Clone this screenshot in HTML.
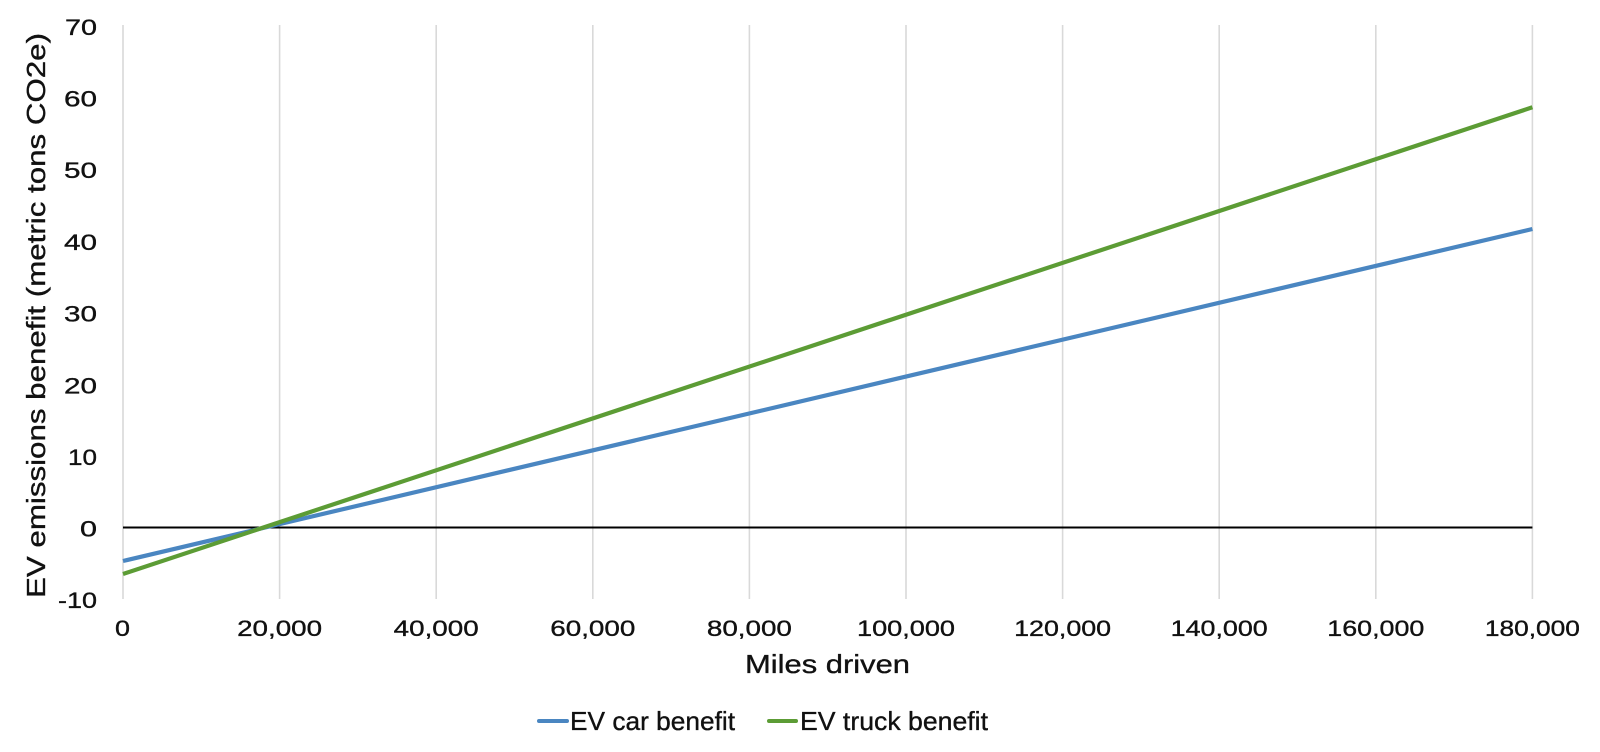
<!DOCTYPE html>
<html>
<head>
<meta charset="utf-8">
<style>
  html, body { margin:0; padding:0; background:#ffffff; }
  svg { display:block; }
  text { font-family: "Liberation Sans", "DejaVu Sans", sans-serif; fill:#111111; stroke:#111111; stroke-width:0.35px; }
</style>
</head>
<body>
<svg width="1600" height="752" viewBox="0 0 1600 752" xmlns="http://www.w3.org/2000/svg">
  <rect x="0" y="0" width="1600" height="752" fill="#ffffff"/>
  <!-- vertical gridlines -->
  <g stroke="#d9d9d9" stroke-width="1.6">
    <line x1="123" y1="25" x2="123" y2="599"/>
    <line x1="279.6" y1="25" x2="279.6" y2="599"/>
    <line x1="436.2" y1="25" x2="436.2" y2="599"/>
    <line x1="592.8" y1="25" x2="592.8" y2="599"/>
    <line x1="749.4" y1="25" x2="749.4" y2="599"/>
    <line x1="906" y1="25" x2="906" y2="599"/>
    <line x1="1062.6" y1="25" x2="1062.6" y2="599"/>
    <line x1="1219.2" y1="25" x2="1219.2" y2="599"/>
    <line x1="1375.8" y1="25" x2="1375.8" y2="599"/>
    <line x1="1532.4" y1="25" x2="1532.4" y2="599"/>
  </g>
  <!-- zero line -->
  <line x1="123" y1="527.5" x2="1532.4" y2="527.5" stroke="#000000" stroke-width="2"/>

  <!-- series -->
  <line x1="123" y1="561" x2="1532.4" y2="229" stroke="#4a86c1" stroke-width="4.2" stroke-linecap="butt"/>
  <line x1="123" y1="574" x2="1532.4" y2="107.3" stroke="#5c9c35" stroke-width="4.2" stroke-linecap="butt"/>

  <!-- y tick labels -->
  <g font-size="22" text-anchor="end">
    <text x="97" y="35" textLength="32" lengthAdjust="spacingAndGlyphs">70</text>
    <text x="97" y="106.5" textLength="33" lengthAdjust="spacingAndGlyphs">60</text>
    <text x="97" y="178.2" textLength="33" lengthAdjust="spacingAndGlyphs">50</text>
    <text x="97" y="249.9" textLength="33" lengthAdjust="spacingAndGlyphs">40</text>
    <text x="97" y="321.6" textLength="33" lengthAdjust="spacingAndGlyphs">30</text>
    <text x="97" y="393.3" textLength="33" lengthAdjust="spacingAndGlyphs">20</text>
    <text x="97" y="465" textLength="29" lengthAdjust="spacingAndGlyphs">10</text>
    <text x="97" y="536.5" textLength="17" lengthAdjust="spacingAndGlyphs">0</text>
    <text x="97" y="608" textLength="39" lengthAdjust="spacingAndGlyphs">-10</text>
  </g>

  <!-- x tick labels -->
  <g font-size="22" text-anchor="middle">
    <text x="122.5" y="636" textLength="15" lengthAdjust="spacingAndGlyphs">0</text>
    <text x="279.6" y="636" textLength="85" lengthAdjust="spacingAndGlyphs">20,000</text>
    <text x="436.2" y="636" textLength="85" lengthAdjust="spacingAndGlyphs">40,000</text>
    <text x="592.8" y="636" textLength="85" lengthAdjust="spacingAndGlyphs">60,000</text>
    <text x="749.4" y="636" textLength="85" lengthAdjust="spacingAndGlyphs">80,000</text>
    <text x="906" y="636" textLength="98" lengthAdjust="spacingAndGlyphs">100,000</text>
    <text x="1062.6" y="636" textLength="97" lengthAdjust="spacingAndGlyphs">120,000</text>
    <text x="1219.2" y="636" textLength="97" lengthAdjust="spacingAndGlyphs">140,000</text>
    <text x="1375.8" y="636" textLength="97" lengthAdjust="spacingAndGlyphs">160,000</text>
    <text x="1532.4" y="636" textLength="95" lengthAdjust="spacingAndGlyphs">180,000</text>
  </g>

  <!-- axis titles -->
  <text x="827.5" y="673" font-size="26" text-anchor="middle" textLength="165" lengthAdjust="spacingAndGlyphs">Miles driven</text>
  <text transform="translate(45,315.5) rotate(-90)" x="0" y="0" font-size="26" text-anchor="middle" textLength="565" lengthAdjust="spacingAndGlyphs">EV emissions benefit (metric tons CO2e)</text>

  <!-- legend -->
  <line x1="539" y1="721" x2="567" y2="721" stroke="#4a86c1" stroke-width="4" stroke-linecap="round"/>
  <text x="570" y="730" font-size="26" textLength="165" lengthAdjust="spacingAndGlyphs">EV car benefit</text>
  <line x1="769" y1="721" x2="796" y2="721" stroke="#5c9c35" stroke-width="4" stroke-linecap="round"/>
  <text x="800" y="730" font-size="26" textLength="188" lengthAdjust="spacingAndGlyphs">EV truck benefit</text>
</svg>
</body>
</html>
